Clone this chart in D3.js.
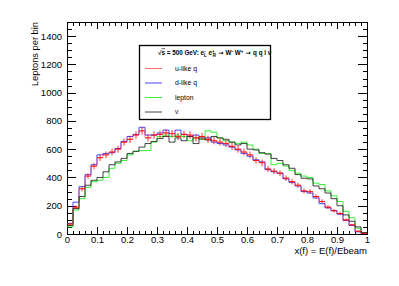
<!DOCTYPE html>
<html>
<head>
<meta charset="utf-8">
<script src="https://cdn.jsdelivr.net/npm/d3@7/dist/d3.min.js"></script>
<style>
  body { margin: 0; background: #fff; }
  svg { display: block; font-family: "Liberation Sans", Arial, sans-serif; }
  .axis path { display: none; }
  .axis line { stroke: #000; shape-rendering: crispEdges; }
  .axis text { font-size: 9.5px; fill: #000; }
</style>
</head>
<body>
<div id="chart"></div>
<script>
// 50 bins of 0.02 in x(f) = E(f)/Ebeam
const binEdges = d3.range(0, 51).map(i => i / 50);

const uLike = [70, 190, 320, 410, 480, 540, 560, 580, 600, 650,
  670, 700, 730, 680, 700, 705, 715, 710, 690, 705,
  700, 680, 690, 670, 660, 650, 640, 620, 600, 580,
  560, 520, 505, 460, 445, 430, 395, 370, 345, 305,
  300, 265, 230, 190, 165, 145, 100, 65, 20, 5];

const dLike = [75, 225, 335, 420, 490, 560, 570, 575, 605, 655,
  690, 705, 755, 700, 700, 715, 735, 690, 735, 705,
  690, 700, 670, 680, 650, 640, 630, 615, 595, 570,
  550, 525, 510, 455, 440, 430, 390, 365, 340, 300,
  290, 255, 215, 185, 165, 140, 95, 60, 15, 3];

const lepton = [50, 170, 250, 330, 370, 380, 400, 465, 500, 520,
  560, 585, 590, 590, 650, 690, 700, 690, 700, 690,
  660, 680, 670, 730, 720, 680, 660, 650, 640, 650,
  630, 600, 570, 570, 490, 500, 480, 450, 430, 410,
  400, 360, 350, 305, 270, 230, 160, 115, 40, 10];

const nu = [60, 180, 265, 345, 380, 400, 440, 490, 510, 535,
  570, 585, 615, 640, 655, 675, 690, 650, 680, 660,
  690, 640, 680, 665, 690, 680, 670, 650, 630, 640,
  600, 595, 575, 565, 535, 520, 490, 465, 420, 395,
  390, 340, 320, 290, 250, 200, 135, 90, 50, 10];

const xTicks = [0, 0.1, 0.2, 0.3, 0.4, 0.5, 0.6, 0.7, 0.8, 0.9, 1];
const yTicks = [0, 200, 400, 600, 800, 1000, 1200, 1400];

const W = 399, H = 286;
const frame = { left: 67, right: 367, top: 22, bottom: 234 };

const svg = d3.select("#chart").append("svg")
  .attr("width", W).attr("height", H);

const x = d3.scaleLinear().domain([0, 1]).range([frame.left, frame.right]);
const y = d3.scaleLinear().domain([0, 1500]).range([frame.bottom, frame.top]);

const xMinor = d3.range(0, 51).map(i => i / 50);
const yMinor = d3.range(0, 31).map(i => i * 50);

// minor ticks on all four sides
svg.append("g").attr("class", "axis")
  .attr("transform", `translate(0,${frame.bottom})`)
  .call(d3.axisBottom(x).tickValues(xMinor).tickSize(-3.5).tickFormat(""));
svg.append("g").attr("class", "axis")
  .attr("transform", `translate(0,${frame.top})`)
  .call(d3.axisTop(x).tickValues(xMinor).tickSize(-3.5).tickFormat(""));
svg.append("g").attr("class", "axis")
  .attr("transform", `translate(${frame.left},0)`)
  .call(d3.axisLeft(y).tickValues(yMinor).tickSize(-4.5).tickFormat(""));
svg.append("g").attr("class", "axis")
  .attr("transform", `translate(${frame.right},0)`)
  .call(d3.axisRight(y).tickValues(yMinor).tickSize(-4.5).tickFormat(""));

// major ticks + labels
svg.append("g").attr("class", "axis")
  .attr("transform", `translate(0,${frame.bottom})`)
  .call(d3.axisBottom(x).tickValues(xTicks).tickSizeInner(-7).tickSizeOuter(0)
    .tickPadding(2).tickFormat(d => String(d)));
svg.append("g").attr("class", "axis")
  .attr("transform", `translate(0,${frame.top})`)
  .call(d3.axisTop(x).tickValues(xTicks).tickSize(-7).tickFormat(""));
svg.append("g").attr("class", "axis")
  .attr("transform", `translate(${frame.left},0)`)
  .call(d3.axisLeft(y).tickValues(yTicks).tickSizeInner(-9).tickSizeOuter(0)
    .tickPadding(5).tickFormat(d => String(d)));
svg.append("g").attr("class", "axis")
  .attr("transform", `translate(${frame.right},0)`)
  .call(d3.axisRight(y).tickValues(yTicks).tickSize(-9).tickFormat(""));

// frame
svg.append("rect")
  .attr("x", frame.left).attr("y", frame.top)
  .attr("width", frame.right - frame.left).attr("height", frame.bottom - frame.top)
  .attr("fill", "none").attr("stroke", "#000").attr("stroke-width", 1)
  .attr("shape-rendering", "crispEdges");

// step outlines
const stepLine = d3.line()
  .x(d => x(d[0]))
  .y(d => y(d[1]))
  .curve(d3.curveStepAfter);

function stepPoints(vals) {
  let pts = vals.map((v, i) => [binEdges[i], v]);
  pts.push([binEdges[vals.length], vals[vals.length - 1]]);
  return pts;
}

const series = [
  { name: "d-like q", vals: dLike, color: "#3333ff", op: 0.9 },
  { name: "lepton", vals: lepton, color: "#22ee22", op: 0.9 },
  { name: "ν", vals: nu, color: "#222222", op: 0.85 },
  { name: "u-like q", vals: uLike, color: "#ff0000", op: 0.4 }
];

svg.selectAll(".hist")
  .data(series)
  .enter()
  .append("path")
  .attr("class", "hist")
  .attr("d", d => stepLine(stepPoints(d.vals)))
  .attr("fill", "none")
  .attr("stroke", d => d.color)
  .attr("stroke-opacity", d => d.op)
  .attr("stroke-width", 1);

// error crosses on u-like q
const errs = svg.append("g").attr("stroke", "#ff0000").attr("stroke-width", 1).attr("stroke-opacity", 0.8);
uLike.forEach((v, i) => {
  let xc = x((binEdges[i] + binEdges[i + 1]) / 2);
  let e = Math.sqrt(v);
  errs.append("line")
    .attr("x1", x(binEdges[i])).attr("x2", x(binEdges[i + 1]))
    .attr("y1", y(v)).attr("y2", y(v));
  errs.append("line")
    .attr("x1", xc).attr("x2", xc)
    .attr("y1", y(v - e)).attr("y2", y(v + e));
});

// axis titles
svg.append("text")
  .attr("x", frame.right).attr("y", 254)
  .attr("text-anchor", "end")
  .style("font-size", "9.5px")
  .text("x(f) = E(f)/Ebeam");

svg.append("text")
  .attr("transform", `translate(38,${frame.top}) rotate(-90)`)
  .attr("text-anchor", "end")
  .style("font-size", "9.3px")
  .text("Leptons per bin");

// legend
const leg = svg.append("g");
leg.append("rect")
  .attr("x", 139.5).attr("y", 45.5).attr("width", 131).attr("height", 74)
  .attr("fill", "#fff").attr("stroke", "#000").attr("stroke-width", 1.3);

const title = leg.append("text")
  .attr("x", 158).attr("y", 54.5)
  .style("font-size", "6.3px").style("font-weight", "bold");
title.append("tspan").text("√");
title.append("tspan").attr("text-decoration", "overline").text("s");
title.append("tspan").text(" = 500 GeV: e");
title.append("tspan").attr("dy", -2).style("font-size", "4.5px").text("-");
title.append("tspan").attr("dy", 4).attr("dx", -1.5).style("font-size", "4.5px").text("L");
title.append("tspan").attr("dy", -2).text(" e");
title.append("tspan").attr("dy", -2).style("font-size", "4.5px").text("+");
title.append("tspan").attr("dy", 4).attr("dx", -2).style("font-size", "4.5px").text("R");
title.append("tspan").attr("dy", -2).style("font-family", "DejaVu Sans").text(" → ");
title.append("tspan").text("W");
title.append("tspan").attr("dy", -2).style("font-size", "4.5px").text("-");
title.append("tspan").attr("dy", 2).text(" W");
title.append("tspan").attr("dy", -2).style("font-size", "4.5px").text("+");
title.append("tspan").attr("dy", 2).style("font-family", "DejaVu Sans").text(" → ");
title.append("tspan").text("q q l ν");

const legItems = [
  { name: "u-like q", color: "#ff0000", op: 0.6 },
  { name: "d-like q", color: "#3333ff", op: 0.9 },
  { name: "lepton", color: "#22ee22", op: 0.9 },
  { name: "ν", color: "#222222", op: 0.85 }
];
const legY = d3.scalePoint().domain(legItems.map(d => d.name)).range([68.5, 112]);

leg.selectAll(".li")
  .data(legItems)
  .enter()
  .append("line")
  .attr("x1", 145).attr("x2", 162)
  .attr("y1", d => legY(d.name)).attr("y2", d => legY(d.name))
  .attr("stroke", d => d.color)
  .attr("stroke-opacity", d => d.op);

leg.selectAll(".lt")
  .data(legItems)
  .enter()
  .append("text")
  .attr("x", 175).attr("y", d => legY(d.name))
  .attr("dy", "0.35em")
  .style("font-size", "6.8px")
  .text(d => d.name);
</script>
</body>
</html>
